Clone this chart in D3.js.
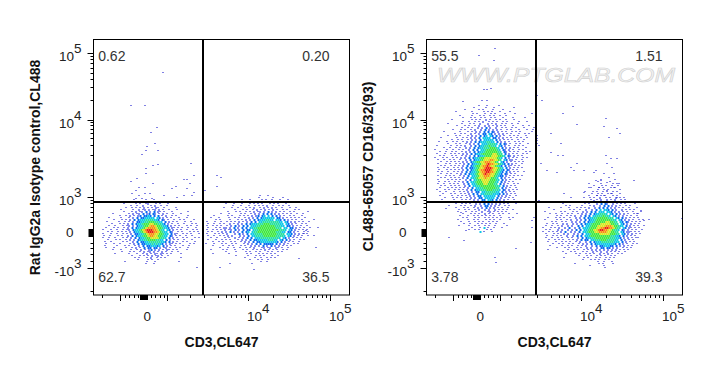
<!DOCTYPE html>
<html>
<head>
<meta charset="utf-8">
<script src="https://cdn.jsdelivr.net/npm/d3@7"></script>
<style>
	html,body{ margin:0; padding:0; background:#fff; }
	svg{ display:block; }
	text{ font-family:"Liberation Sans",Arial,sans-serif; }
</style>
</head>
<body>
<div id="chart"></div>
<script>
//==================================================================
// data, everything in display channels (0-256 along each axis)
//==================================================================
var xMajor = [26.5, 73.5, 154.5, 236.5],
		xMinor = [8.5, 31.5, 35.5, 40.5, 44.5, 57.5, 61.5, 66.5, 70.5, 84.5, 96.5, 110.5, 124.5, 132.5, 137.5, 142.5, 147.5, 151.5, 179.5, 193.5, 204.5, 212.5, 218.5, 223.5, 228.5, 232.5],
		xBlob = [46.5, 47.5, 48.5, 49.5, 50.5, 51.5, 52.5, 53.5];

var yMajor = [27, 98, 175, 242],
		yMinor = [4, 34, 41, 47, 52, 73, 78, 83, 88, 92, 95, 120, 140, 150, 157, 162, 166, 170, 173, 195, 208, 216, 222, 227, 232, 236, 239],
		yBlob = [59, 60, 61, 62, 63, 64, 65, 66];

var xLabels = [
	{ at:50,    base:'0', sup:'' },
	{ at:154.5, base:'10', sup:'4' },
	{ at:236.5, base:'10', sup:'5' }
];
var yLabels = [
	{ at:242, base:'10', sup:'5' },
	{ at:175, base:'10', sup:'4' },
	{ at:98,  base:'10', sup:'3' },
	{ at:63,  base:'0',  sup:'' },
	{ at:27,  base:'-10', sup:'3' }
];

var gateX = 109.5, gateY = 93;

var titles1 = ['CD3,CL647', 'Rat IgG2a Isotype control,CL488'],
		titles2 = ['CD3,CL647', 'CL488-65057 CD16/32(93)'];

var quads1 = ['0.62', '0.20', '62.7', '36.5'],
		quads2 = ['55.5', '1.51', '3.78', '39.3'];

// density, one char per 2x2 channel cell: . empty, 1 lone event ... 9 peak
var cluster1a = { x:8, y:96, rows:[
	"................1.....1...1",
	"..............1...1...1.1....1",
	"...........1.....1.1..12...1.1...1",
	"..............1..1..2...1.2..1..1",
	"............1..1.1.1.2.1.1.21..1.....1",
	".........1.....1..2.12.2.12.2.1..1...1",
	"...........1...1.2.12.3.2.3.21.1...1.......1",
	".....1.......1.2.12.3.23.32.1.2.1..1...1",
	".........1..1.2.1.23.3343.3.3.1.2..1.1.....1",
	"...1.....1...1.2.3.3344444.43.2.1.1...1...1",
	"......1...1.1.2.3.34445555443.32.1..1..1.1....1",
	"..1.....1..1.1.2.3344556665544.3.2.1.1...1..1",
	".....1...1.1.2.3.344566677665543.2.1..1..1...1.1",
	"...1..1...1.12.2.3445667887665443.2.1.1...1.1..1",
	"..1...1.1..1.2.3.34456788887665443.21.1.1..1...1",
	"1...1..1..1.12.3445678999887654.43.2.1.1..1..1.1",
	"...1.1..1.1.1.2.34456789998876544.32..1.1...1.1.1",
	"1...1..1..1.1.2.33445678887766544.3.21..1.1.1...1",
	".1..1...1.1..2.3.3445667887766544.32.1.1..1..1",
	"1..1..1...1.1.2.3.34456677776554.3.2.1..1.1...1.1",
	"...1...1.1..1.2.2.3445566665544.3.2.1.1..1...1",
	".1..1.....1.1..2.3.3344555555443.3.2.1..1.1...1",
	"..1...1..1....1.2.3.33444545443.2.21.1.1....1.1",
	".1.....1...1.1..1.2.3.3344434.3.2.1.1...1..1",
	"..1...1.....1..1.2.1.3.33.33.2.12.1..1.1...1",
	".....1...1....1..1.2.1.23.2.2.1.21.1.1....1",
	"..........1...1.1..1.2.12.2.1.2.1..1..1",
	"......1......1...1..1.2.1.21.21.1.1....1",
	"...............1...1.1.1.2.12.1..1",
	"................1.1...1.2..1.1.1.......1",
	"..................1....1.1..1",
	"...........1..........1...1...........1",
	"......................1...1"
]};

var cluster1b = { x:112, y:100, rows:[
	"...........................1...1",
	"..........................1......1....1",
	"..................1...1.....1.1..1...1...1",
	"............1......1.....1..1.1..1.1..1",
	"..........1...1...1...1.1.1.1...1.1.1...1",
	".............1...1...1..1.1.1.2..1..1.1..1",
	".........1...1..1...1.1.2..1.2.1.2.1..1...1..1",
	"..............1...1.1..1.2.1.2.1.2.1..1.1...1.1",
	"...........1...1.1..1.1.2.12.2.3.2.2.1.1..1.1......1",
	".......1...1.....1.1..1.2.2.3.3.3.2.2.1.1.1..1..1",
	"....1......1.1...1.1.1.2.23.34.4.3.3.2.1..1.1...1",
	"..1...1....1..1.1..1.2.2.3.3444444.33.2.1.1.1.1..1",
	".....1.1....1...1.1.2.2.3.34445544.443.3.2.1.1..1.....1",
	"1...1..1..1.1.1.2.1.2.3.3.445555555544.43.2.2.1.1..1",
	".1..1..1.1..2.1.2.2.3.34445556665555544.43.2.1..1.1",
	"1..1.1.1..1.2.3.2.3.3.44455666666655544.33.2.1.1..1",
	".1...1.1.22.2.3.2.3.3.4455666666666555.44.33.2.1.1..1...1",
	"1..1.1.1.2.12.3.2.3.33.45566666666665554.43.2.1.1.1",
	".1.1..1.2.2.3.2.2.3.34.45566666666655544.33.2.1..1.1",
	"1...1.1.1.2...2.3.2.3.44555566666665555.443.2.2.1.1",
	".1..1..1.1.2.2...2.2.3.44555566666655554.43.2.1.1..1..1",
	"..1..1...1.1..2.1.2.3.3.4445555555554.43.2.1.1.1",
	".1...1..1.1.1...1.2.2.3.334444455544.43.3.2.1..1.1",
	"...1..1.1...1.1..1.2.2.3.33444444443.3.2.1.1..1",
	"1...1...1.1..1.1...1.2.2.3.3.33333.3.2.2.1..1.1",
	"...1....1..1.1...1.1..2.2.2.3.2.3.2.2.1.1.1",
	".......1...1..1..1..1.1.2...12.12..21.1..1",
	"..1.....1.1...1...1.1..1.1.1.2.1.1.1..1.1",
	"..........1....1....1.1..1.1...1.1..1.1",
	"...1.......1........1.1...1.1.1.1.1",
	"...............1.....1...1.1.1...1..1",
	"...................1....1..1..1.1.1",
	"......................1...1.1..1",
	"...........................1..1",
	"............1..........1....."
]};

var cluster2a = { x:8, y:190, rows:[
	"......................1...1.....1",
	"...................1.....1...1.........1",
	"...............1......1.1....1....1",
	"..........1.......1.....1.1.1...1....1",
	"...................1.1...1..1.1....1....1",
	"............1.....1...1.1..1.1..1..1",
	"..............1...1.1..1.1..1.1...1....1.....1",
	"........1.........1.1.1..2.1..1.1..1...1",
	"..............1..1..1.1.2..1.1.1..1.1.....1...1",
	"......1......1...1.1..2...2.1.2..1.1..1..1",
	"...........1...1.1..1.2..2.2.1.2.1.1...1....1..1",
	".............1..1.1..2.2.3.2..2..1.1..1.1...1....1",
	".........1...1.1..1.2..2.3.2.2.2.1..1.1...1...1..1",
	"....1.......1...1.1.2.2.3.3.32.2.1.1..1.1.1.....1",
	"..........1..1.1..2.1.2.33.43.2.2.2.1.1...1..1.1",
	"......1...1.1...1.2.2.3.34.43.3.2.1..1.1.1...1",
	"...1.......1..1.1.2.2.3.4444.33.2.2.1.1..1.1..1",
	"........1..1.1..1.2.2.3.44444.3.2.1.1.1..1..1",
	"..1...1..1.1..1.2.2.3.34445544.3.2.2.1..1.1.1",
	"......1...1.1..1.2.2.3.44455554.3.32.1..1.1...1",
	".1......1..1.1.2..2.3.344556554.43.2.1..1.1.1",
	"....1..1..1.1..2.2.3.34455566654.3.2.2.1.1...1",
	"1.....1..1..1.1..2.3.3.4456666654.32.2.1..1.1",
	"..1..1..1.1..1.2.2.3.344566666655.32.1.1.1...1.1",
	".1...1..1.1.1.2.2.3.34456666677655.3.2.1.1..1.1",
	"..1.1...1.1..1.2.2.3.34456667776654.32.2.1.1",
	"1...1.1..1.1.2.2.3.344566777777654.3.2.1.1..1.1",
	".1..1..1.1..1..2.3.34456777887765.43.22.1..1",
	"...1..1.1.1.1.2.2.34566778887765.43.2.1.1.1.1",
	".1...1.1..1.1.2.3.34456778988776543.3.2.1..1",
	"...1.1..1.1.1.2.3.3456678898776543.3.21.1.1",
	".1..1.1..1.1.2.3.33456778999877654.3.2.1.1.1",
	"..1...1.1.1.1.2.3.34567889998776543.32.1.1",
	".1.1..1..1.1.2.3.34456788998876543.3.2.1.1..1",
	"...1..1.1..1.2.3.34456778988776543.32.1.1",
	".1...1.1.1..1.2.3.4456778887765433.2.1.1.1.1",
	"...1.1..1.1.1.2.3.44567778776654.3.2.1.1",
	".1....1.1.1.1..2.3.4566777766654.3.2.1..1.1",
	"..1..1.1..1.1.2.3.44566677766654.3.2.1.1",
	".1..1..1.1.1..2.3.4456667766655.3.2.1..1.1",
	"...1.1..1.1.1..2.3.44556666666554.3.2.1.1",
	"..1...1.1.1.1.1.2.3.445566666655.3.2.1..1",
	".1...1.1..1.1.1.2.3.3445556665554.32.2.1.1",
	"..1..1...1..1.1.2.2.33.445555544.3.2.1.1",
	"....1...1.1..1.1.2.3.3.4455554443.3.2.1.1",
	"..1.....1..1.1.1.2.2.33.444444.3.2.2.1..1",
	".....1...1.1.1..1.2.2.33.44444.3.2.1.1.1",
	"...1.....1...1.1.1.2.2.33.443.3.2.2.1..1",
	".....1.....1.1..1.1.2.2.3.33.32.1.1.1..1",
	"..........1..1.1.1..2.2.3.3.2.2.2.1.1...1",
	".......1.....1.1..1.2..2.33.2.2.1..1.1",
	"..........1...1.1..1.2.2.3.2.2.1.1..1",
	"............1..1.1..1.2..2.2..2.1.1.1..1",
	"...........1...1..1.1..2..12.1.1.1.1",
	"..............1...1.1.1..2.1.1..1.1..1...1",
	"............1...1..1.1.1.1.1.1..1",
	"..............1.1...1.1..1.1.1.1.1...1.1",
	"...........1....1..1.1...1.1.1..1....1",
	".............1...1..1.1.1..1.1.1",
	"..............1..1...1.1.1.1..1...1",
	"............1....1..1.1..1.1..1.....1",
	"..................1...1.4.1..1...1",
	".................1..1.1...1.1",
	"......................4.1...1"
]};

var cluster2b = { x:116, y:116, rows:[
	".............................1......1",
	"...........................1.....1",
	".......................1.....1.....1..1",
	".........................1...1.1..1..1",
	".......................1....1.1...1.1",
	"...........................1..1.1.....1",
	".....................1...1.1..1.1..1.1",
	"........................1..1.1..1.1...1",
	".......................1...1.1.1...1.1",
	".......................1.1..2..1.1..2.1.1",
	"........................1..1.2..2.1.2..1.1",
	".............1.......1...1..2.2..2.2.1..1",
	"..........1..........1.1...2.3.32..2.1.1.1....1",
	"...........1.1.....1...1.2..2.3.3.2.2.1..1.1",
	"...1.....1...1...1.1.1.2..2.3.3.3.2.2.1.1..1...1",
	".....1.......1.1..1..2..2.3.4.443.3.2..2.1.1.1",
	".1.......1.1...1.1..2.2.3.3.444.443.2.2.1.1..1...1",
	"...1..1..1..1.1..1.2.2.3.3445554.43.3.2.2.1..1.1",
	".......1.1..1.1.2..2.3.3.445556554.43.2.2.1.1..1",
	"..1...1.1.1..1..2.2.3.3445566666555.43.3.2.1.1.1",
	".1.....1.1..1.2..2.2.3.34456666666554.43.2.2.1..1.1..1",
	"....1.1..1.1..2.2.2.3.344566666776655.43.32.1.1.1",
	"..1..1.1..2.2..2.2.3.34456666777776655.43.2.2.1.1",
	".1..1..1.2..2.2..3.3.4456667777888766544.3.2.1.1..1",
	"1...1.1.2..2.3..2.3.4445666778899887655.43.21.1.1",
	".1.1...2.2..2.2.3.3.445667789988776554.32.2.1.1..1",
	"1..1.1.1.2.3..2.2.3.445666778888776655.43.221.1.1",
	".1...1.1..2.2..2.2.3.44566667777766655.43.2.2.1.1",
	"..1..1.1.1..2..2.3.3.445666666666655443.3.2.1.1",
	".1..1..1.1..1.1..2.3.344556666666555443.2.2.1..1",
	"...1..1.1.1..1.1.2.3.33.44555666555544.3.2.1.1",
	"..1...1..1.1.1..1.2..2.3.3444555555444.3.2.1.1",
	".....1..1.1..1.1..1.2.2.3.34444444443.3.2.1..1.1",
	"...1.....1..1.1..1.1.2..2.3.3344433.3.2.2.1.1",
	".......1...1.1...1.1..2.2..2.33.33.2.2..1.1.1",
	"..1.........1..1.1..1.1.2.2.2.2.2.2.2.1.1.1",
	"..........1...1.1...1.1..2.1.2..2.1.1.1..1",
	"...........1....1.1..1.1.1..2.1.2.1..1.1",
	"..................1...1.1..1.1.1..1.1",
	"..........1.........1.1...1.1..1.1.1",
	"....................1...1.1.1..1.1",
	"...........................1..1...1",
	"................1...........1.1....1",
	".......................1......1",
	"...............................1"
]};

// stray events
var dots1 = [[69,223],[37,190],[51,190],[57,163],[63,168],[52,145],[53,149],[61,152],[48,141],[64,145],[97,132],[52,127],[59,130],[64,131],[52,122],[100,120],[90,116],[93,116],[37,114],[43,117],[96,112],[59,112],[45,108],[51,108],[82,109],[78,107],[42,105],[93,107],[100,103],[38,102],[45,100],[51,102],[56,102],[70,100],[90,100],[83,98],[42,97],[48,97],[58,97],[98,100],[123,120],[127,118],[123,109],[111,105],[222,48],[212,65],[210,62],[205,37],[160,26],[126,28],[103,28]];

var dots2 = [[68,247],[52,240],[67,235],[57,206],[60,206],[64,207],[36,194],[55,195],[60,195],[105,182],[110,200],[115,195],[146,189],[136,182],[179,177],[150,171],[177,169],[190,167],[193,162],[182,158],[110,160],[110,157],[110,155],[110,152],[112,150],[124,162],[134,152],[124,143],[131,140],[136,140],[150,132],[114,132],[120,125],[130,123],[144,128],[147,125],[157,125],[167,123],[169,125],[179,140],[184,137],[190,137],[180,132],[185,128],[177,122],[182,118],[187,122],[169,115],[174,115],[180,113],[190,112],[207,115],[157,103],[164,108],[172,108],[180,105],[187,108],[170,100],[157,98],[177,100],[184,102],[190,98],[167,95],[144,98],[137,102],[112,95],[89,47],[68,38],[69,33],[22,58],[37,55],[105,75],[107,78],[104,53],[105,68],[255,77],[214,85],[210,82],[217,75],[209,58],[19,87],[34,83],[39,65]];

var levels = [1, 2, 3, 4, 5, 6, 7, 8, 9],
		levelColors = ['#0000c8', '#0a1ae0', '#0a6cf0', '#10c8e8', '#28e0a0', '#40e840', '#d8e820', '#f89010', '#e82010'];

//==================================================================
// layout
//==================================================================
var W = 703, H = 367, panelW = 256, panelH = 255.5, panelTop = 39.5;

var panels = [
	{ left:93.5,  clusters:[cluster1a, cluster1b], dots:dots1, titles:titles1, quads:quads1, titleY:128 },
	{ left:426.5, clusters:[cluster2a, cluster2b], dots:dots2, titles:titles2, quads:quads2, titleY:127, mark:'WWW.PTGLAB.COM' }
];

var svg = d3.select('#chart').append('svg')
	.attr('width', W)
	.attr('height', H);

var color = d3.scaleLinear().domain(levels).range(levelColors);

var x = d3.scaleLinear().domain([0, 256]).range([0, panelW]),
		y = d3.scaleLinear().domain([0, panelH]).range([panelH, 0]);

panels.forEach(drawPanel);

//------------------------------------------------------------------
// odd rows sit one channel over so the cells do not line up in columns
//------------------------------------------------------------------
function cellsOf(cluster)	{
	var out = [];
	cluster.rows.forEach((row, r)=>{
		row.split('').forEach((c, i)=>{
			if (c != '.') out.push({ x:cluster.x + i*2 + r%2, y:cluster.y - r*2, level:+c });
		});
	});
	return out;
}

//------------------------------------------------------------------
//
//------------------------------------------------------------------
function drawPanel(p)	{

	var g = svg.append('g').attr('transform', 'translate('+p.left+','+panelTop+')');

	var cells = d3.merge(p.clusters.map(cellsOf)).sort((a,b)=>a.level-b.level);

	g.append('g').selectAll('rect')
		.data(cells)
		.join('rect')
			.attr('x', d=>x(d.x))
			.attr('y', d=>y(d.y))
			.attr('width', d=>d.level<=2 ? 1 : x(2))
			.attr('height', d=>d.level==1 ? 1 : x(2))
			.attr('fill', d=>color(d.level));

	g.append('g').selectAll('rect')
		.data(p.dots)
		.join('rect')
			.attr('x', d=>x(d[0]))
			.attr('y', d=>y(d[1]))
			.attr('width', 1)
			.attr('height', 1)
			.attr('fill', levelColors[0]);

	if (p.mark) {
		g.append('text')
			.attr('x', x(10.5))
			.attr('y', y(213))
			.attr('textLength', 238)
			.attr('lengthAdjust', 'spacingAndGlyphs')
			.attr('font-size', '21px')
			.attr('font-style', 'italic')
			.attr('fill', '#f2f2f2')
			.attr('stroke', '#d0d0d0')
			.attr('stroke-width', .6)
			.text(p.mark);
	}

	// gates
	g.append('line')
		.attr('x1', x(gateX)).attr('x2', x(gateX))
		.attr('y1', 0).attr('y2', panelH)
		.attr('stroke', '#000').attr('stroke-width', 2);

	g.append('line')
		.attr('x1', 0).attr('x2', panelW)
		.attr('y1', y(gateY)).attr('y2', y(gateY))
		.attr('stroke', '#000').attr('stroke-width', 2);

	g.append('rect')
		.attr('width', panelW)
		.attr('height', panelH)
		.attr('fill', 'none')
		.attr('stroke', '#000');

	// axes
	var axisX = (vals, len)=>d3.axisBottom(x).tickValues(vals).tickSize(len).tickFormat(''),
			axisY = (vals, len)=>d3.axisLeft(y).tickValues(vals).tickSize(len).tickFormat('');

	[[xMinor, 3], [xBlob, 5], [xMajor, 6]].forEach(a=>{
		g.append('g')
			.attr('transform', 'translate(0,'+panelH+')')
			.call(axisX(a[0], a[1]))
			.call(sel=>sel.select('.domain').remove());
	});

	[[yMinor, 3], [yBlob, 5], [yMajor, 6]].forEach(a=>{
		g.append('g')
			.call(axisY(a[0], a[1]))
			.call(sel=>sel.select('.domain').remove());
	});

	// tick labels
	var lx = g.selectAll('.xl')
		.data(xLabels)
		.join('text')
			.attr('class', 'xl')
			.attr('x', d=>x(d.at) + (d.sup ? -1 : 0))
			.attr('y', panelH + 26)
			.attr('font-size', '13.5px')
			.attr('fill', '#222')
			.attr('text-anchor', d=>d.sup ? 'start' : 'middle')
			.attr('dx', d=>d.sup ? 0 : 3.7);
	lx.append('tspan').text(d=>d.base);
	lx.append('tspan').attr('dy', -8).text(d=>d.sup);

	var ly = g.selectAll('.yl')
		.data(yLabels)
		.join('text')
			.attr('class', 'yl')
			.attr('x', d=>d.sup ? -12 : -20)
			.attr('y', d=>y(d.at) + (d.sup ? 8 : 5))
			.attr('font-size', '13.5px')
			.attr('fill', '#222')
			.attr('text-anchor', 'end');
	ly.append('tspan').text(d=>d.base);
	ly.append('tspan').attr('dy', -8).text(d=>d.sup);

	// quadrant frequencies
	var qx = [4.7, 236, 4.7, 236], qy = [234.5, 234.5, 13, 13];
	g.selectAll('.q')
		.data(p.quads)
		.join('text')
			.attr('class', 'q')
			.attr('x', (d,i)=>x(qx[i]))
			.attr('y', (d,i)=>y(qy[i]))
			.attr('text-anchor', (d,i)=>i%2 ? 'end' : 'start')
			.attr('font-size', '14px')
			.attr('fill', '#333')
			.text(d=>d);

	// titles
	g.append('text')
		.attr('x', x(128))
		.attr('y', panelH + 52)
		.attr('text-anchor', 'middle')
		.attr('font-size', '14px')
		.attr('font-weight', 700)
		.attr('fill', '#111')
		.text(p.titles[0]);

	g.append('text')
		.attr('transform', 'translate(-54,'+p.titleY+') rotate(-90)')
		.attr('text-anchor', 'middle')
		.attr('font-size', '14px')
		.attr('font-weight', 700)
		.attr('fill', '#111')
		.text(p.titles[1]);
}
</script>
</body>
</html>
